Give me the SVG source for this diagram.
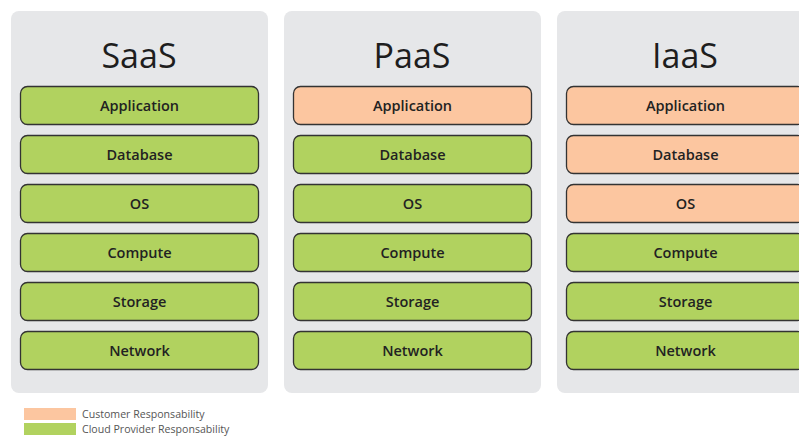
<svg xmlns="http://www.w3.org/2000/svg" width="799" height="436" viewBox="0 0 799 436">
<style>
.panel{fill:#e6e7e9}
.title{font-family:"Open Sans","Liberation Sans",sans-serif;font-size:34px;fill:#1e1e1e;text-anchor:middle}
.box{stroke:#333;stroke-width:1.3}
.g{fill:#b1d25f}
.o{fill:#fcc6a0}
.lbl{font-family:"Open Sans","Liberation Sans",sans-serif;font-size:14.5px;font-weight:600;fill:#222;text-anchor:middle}
.leg{font-family:"Open Sans","Liberation Sans",sans-serif;font-size:10.6px;fill:#555}
</style>
<rect width="799" height="436" fill="#fff"/>
<g id="saas">
<rect class="panel" x="11" y="11" width="257" height="382" rx="8"/>
<text class="title" x="139" y="68">SaaS</text>
<g id="saas-app"><rect class="box g" x="20.5" y="86.5" width="238" height="38" rx="7"/><text class="lbl" x="139.5" y="111">Application</text></g>
<g id="saas-db"><rect class="box g" x="20.5" y="135.5" width="238" height="38" rx="7"/><text class="lbl" x="139.5" y="160">Database</text></g>
<g id="saas-os"><rect class="box g" x="20.5" y="184.5" width="238" height="38" rx="7"/><text class="lbl" x="139.5" y="209">OS</text></g>
<g id="saas-compute"><rect class="box g" x="20.5" y="233.5" width="238" height="38" rx="7"/><text class="lbl" x="139.5" y="258">Compute</text></g>
<g id="saas-storage"><rect class="box g" x="20.5" y="282.5" width="238" height="38" rx="7"/><text class="lbl" x="139.5" y="307">Storage</text></g>
<g id="saas-network"><rect class="box g" x="20.5" y="331.5" width="238" height="38" rx="7"/><text class="lbl" x="139.5" y="356">Network</text></g>
</g>
<g id="paas">
<rect class="panel" x="284" y="11" width="257" height="382" rx="8"/>
<text class="title" x="412" y="68">PaaS</text>
<g id="paas-app"><rect class="box o" x="293.5" y="86.5" width="238" height="38" rx="7"/><text class="lbl" x="412.5" y="111">Application</text></g>
<g id="paas-db"><rect class="box g" x="293.5" y="135.5" width="238" height="38" rx="7"/><text class="lbl" x="412.5" y="160">Database</text></g>
<g id="paas-os"><rect class="box g" x="293.5" y="184.5" width="238" height="38" rx="7"/><text class="lbl" x="412.5" y="209">OS</text></g>
<g id="paas-compute"><rect class="box g" x="293.5" y="233.5" width="238" height="38" rx="7"/><text class="lbl" x="412.5" y="258">Compute</text></g>
<g id="paas-storage"><rect class="box g" x="293.5" y="282.5" width="238" height="38" rx="7"/><text class="lbl" x="412.5" y="307">Storage</text></g>
<g id="paas-network"><rect class="box g" x="293.5" y="331.5" width="238" height="38" rx="7"/><text class="lbl" x="412.5" y="356">Network</text></g>
</g>
<g id="iaas">
<rect class="panel" x="557" y="11" width="257" height="382" rx="8"/>
<text class="title" x="685" y="68">IaaS</text>
<g id="iaas-app"><rect class="box o" x="566.5" y="86.5" width="238" height="38" rx="7"/><text class="lbl" x="685.5" y="111">Application</text></g>
<g id="iaas-db"><rect class="box o" x="566.5" y="135.5" width="238" height="38" rx="7"/><text class="lbl" x="685.5" y="160">Database</text></g>
<g id="iaas-os"><rect class="box o" x="566.5" y="184.5" width="238" height="38" rx="7"/><text class="lbl" x="685.5" y="209">OS</text></g>
<g id="iaas-compute"><rect class="box g" x="566.5" y="233.5" width="238" height="38" rx="7"/><text class="lbl" x="685.5" y="258">Compute</text></g>
<g id="iaas-storage"><rect class="box g" x="566.5" y="282.5" width="238" height="38" rx="7"/><text class="lbl" x="685.5" y="307">Storage</text></g>
<g id="iaas-network"><rect class="box g" x="566.5" y="331.5" width="238" height="38" rx="7"/><text class="lbl" x="685.5" y="356">Network</text></g>
</g>
<g id="legend">
<rect class="o" x="24" y="408" width="52" height="12"/>
<text class="leg" x="82" y="417.5">Customer Responsability</text>
<rect class="g" x="24" y="423" width="52" height="12"/>
<text class="leg" x="82" y="432.5">Cloud Provider Responsability</text>
</g>
<g id="connectors"></g>
</svg>
